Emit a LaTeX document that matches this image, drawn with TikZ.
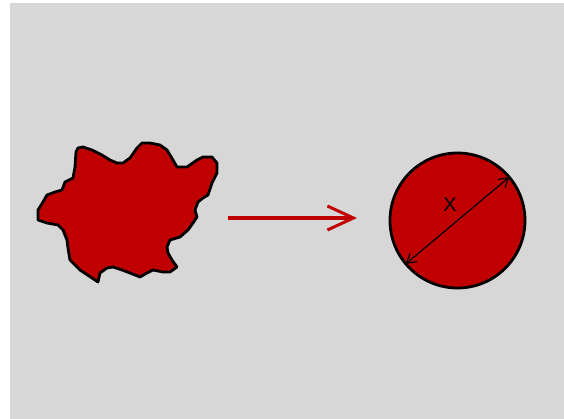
\documentclass[tikz,border=0pt]{standalone}
\usepackage{fontspec}
\setmainfont{Liberation Sans}
\usetikzlibrary{arrows.meta}
\definecolor{blood}{HTML}{C00000}
\definecolor{panel}{HTML}{D7D7D8}

\begin{document}
\begin{tikzpicture}[x=1pt,y=-1pt,
  redbody/.style={fill=blood,draw=black,line width=2.8pt,line join=round},
  flowarrow/.style={blood,line width=3.2pt,-{Straight Barb[length=26pt,width=24pt,line width=3pt]}},
  diam/.style={black,line width=1.2pt,{Straight Barb[length=9pt,width=11pt]}-{Straight Barb[length=9pt,width=11pt]}}]
\useasboundingbox (0,0) rectangle (564,419);
\fill[panel] (10,3) rectangle (564,419);
% irregular lump
\draw[redbody] (76,152) -- (78,148) -- (83,147) -- (92,150) -- (102,155) -- (110,160)
  -- (117,163) -- (123,163) -- (130,158) -- (137,148) -- (142,143) -- (150,143)
  -- (160,145) -- (167,150) -- (173,160) -- (177,167) -- (187,167) -- (197,160)
  -- (203,157) -- (212,157) -- (217,163) -- (217,173) -- (212,183) -- (208,195)
  -- (203,198) -- (198,202) -- (195,210) -- (197,217) -- (193,223) -- (188,230)
  -- (180,237) -- (170,240) -- (167,247) -- (168,253) -- (172,260) -- (177,267)
  -- (170,272) -- (163,272) -- (153,270) -- (147,273) -- (140,277) -- (130,273)
  -- (122,270) -- (113,267) -- (107,268) -- (100,273) -- (98,282) -- (92,278)
  -- (80,270) -- (70,260) -- (68,248) -- (67,240) -- (63,230) -- (58,225)
  -- (47,223) -- (38,220) -- (38,210) -- (43,202) -- (47,195) -- (55,192)
  -- (62,190) -- (65,182) -- (73,178) -- (75,167) -- cycle;
% sphere
\node[redbody,circle,minimum size=135pt,inner sep=0pt,outer sep=0pt] (ball) at (457.5,220.5) {};
\draw[diam] (ball.220) -- (ball.40);
\node[font=\fontsize{20}{22}\selectfont] (xlabel) at (450,205) {X};
\coordinate (from) at (228,218);
\coordinate (to) at (357,218);
\draw[flowarrow] (from) -- (to);
\end{tikzpicture}
\end{document}
